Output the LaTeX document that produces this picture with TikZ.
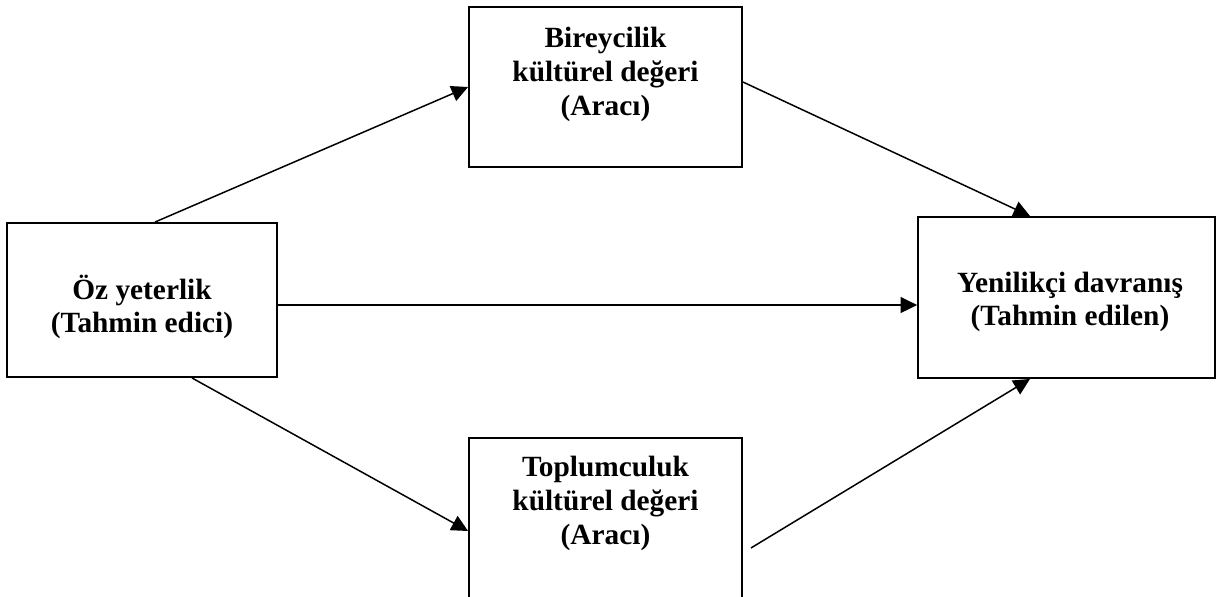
\documentclass[tikz,border=0pt]{standalone}
\usepackage{fontspec}
\setmainfont{Liberation Serif}
\usetikzlibrary{arrows.meta,calc}

\tikzset{
  kutu/.style={draw, line width=1.1pt, minimum width=#1, inner sep=0pt},
  yazi/.style={align=center, inner sep=0pt, font=\fontsize{16.7}{19.2}\selectfont\bfseries},
  ok/.style={line width=0.85pt, -{Triangle[length=0.33cm, width=0.32cm]}}
}

\begin{document}
\begin{tikzpicture}[x=0.02cm, y=-0.02cm]
  \clip (0,0) rectangle (1221,596);
  % kutular
  \node[kutu=5.4cm, minimum height=3.08cm] (ozy) at (142,300) {};
  \node[kutu=5.46cm, minimum height=3.2cm] (bir) at (605.5,87) {};
  \node[kutu=5.46cm, minimum height=3.24cm] (top) at (605.5,519) {};
  \node[kutu=5.94cm, minimum height=3.22cm] (yen) at (1066.5,297.5) {};
  % yazilar
  \node[yazi] (ozyT) at (142,307) {Öz yeterlik\\(Tahmin edici)};
  \node[yazi, anchor=north] (birT) at (605.5,27) {Bireycilik\\kültürel değeri\\(Aracı)};
  \node[yazi, anchor=north] (topT) at (605.5,456) {Toplumculuk\\kültürel değeri\\(Aracı)};
  \node[yazi] (yenT) at (1070,302) {Yenilikçi davranış\\(Tahmin edilen)};
  % oklar
  \draw[ok] ([xshift=0.26cm]ozy.north) -- (bir.west);
  \draw[ok] ([yshift=0.1cm]bir.east) -- ([xshift=-0.73cm]yen.north);
  \draw[ok] ([yshift=-0.1cm]ozy.east) -- ([yshift=-0.1cm]ozy.east -| yen.west);
  \draw[ok] ([xshift=1cm]ozy.south) -- ([yshift=-0.24cm]top.west);
  \draw[ok] ([xshift=0.16cm, yshift=-0.58cm]top.east) -- ([xshift=-0.73cm]yen.south);
\end{tikzpicture}
\end{document}
